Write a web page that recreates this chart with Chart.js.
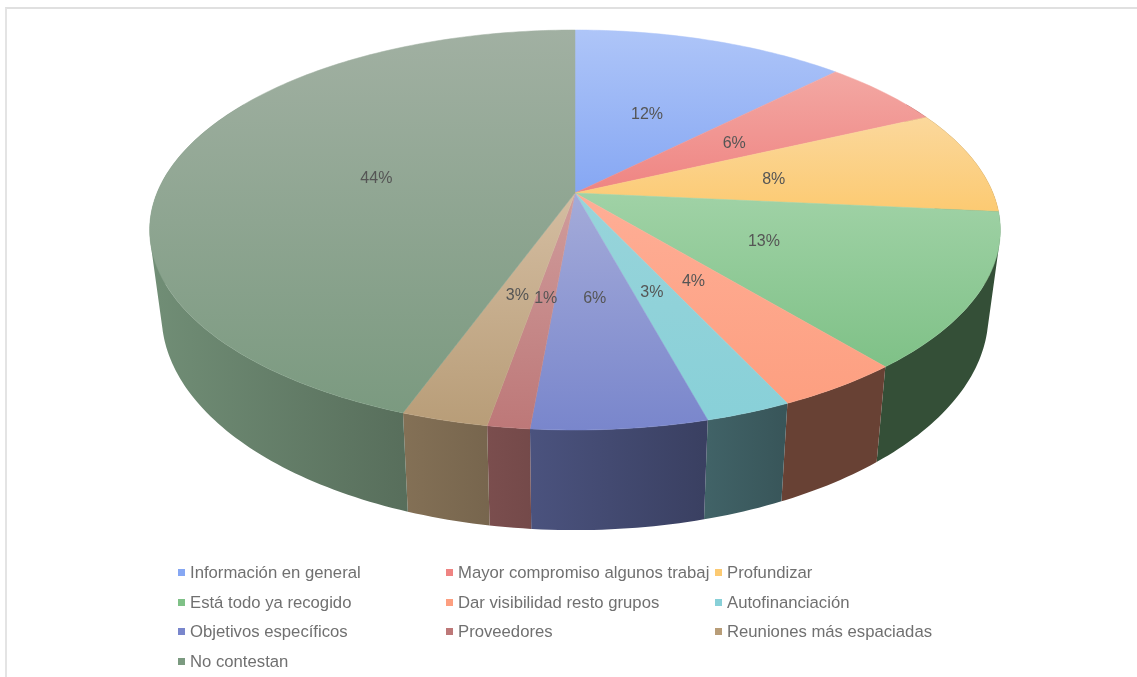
<!DOCTYPE html>
<html lang="es">
<head>
<meta charset="utf-8">
<title>Pie 3D</title>
<script src="https://cdn.jsdelivr.net/npm/chart.js@4"></script>
<style>
  html, body { margin: 0; padding: 0; background: #fff; overflow: hidden; }
  #wrap { position: relative; width: 1137px; height: 677px; filter: blur(0.4px); }
  #frame { position: absolute; left: 5px; top: 7px; right: 0; bottom: 0; border-left: 2px solid #e4e4e4; border-top: 2px solid #e0e0e0; }
  #pie { position: absolute; left: 0; top: 0; }
  .leg { position: absolute; font: 16.7px "Liberation Sans", Arial, sans-serif; color: #707070; line-height: 18px; white-space: nowrap; }
  .leg i { position: absolute; left: -12px; top: 5px; width: 7px; height: 7px; }
</style>
</head>
<body>
<div id="wrap">
  <div id="frame"></div>
  <canvas id="pie" width="1137" height="677"></canvas>
  <div id="legend"></div>
</div>
<script>
const categories = ['Información en general', 'Mayor compromiso algunos trabaj', 'Profundizar', 'Está todo ya recogido',
  'Dar visibilidad resto grupos', 'Autofinanciación', 'Objetivos específicos', 'Proveedores', 'Reuniones más espaciadas', 'No contestan']
// estimated shares, the picture only prints them rounded
const values = [12.45, 5.6, 8.45, 12.52, 4.03, 2.75, 5.6, 1.35, 2.77, 44.48]

const topLight = ['#aec5f8', '#f3a8a3', '#fbd89c', '#a0d2a6', '#feae96', '#98d4da', '#a4abd9', '#d09c9c', '#d4bda1', '#a1b0a2']
const topDark  = ['#86a7f3', '#ef8482', '#fcca72', '#7fc187', '#fd9f80', '#88d0d8', '#7986cc', '#bd7878', '#b89d78', '#7b9a80']

// perspective of the disc: unit circle -> screen
const CX = 575, CY = 193, AX = 418, BY = 157.45, K = -0.185
function project(u, v) {
  const w = 1 + K * v
  return { x: CX + AX * u / w, y: (CY + BY * v) / w }
}
// same point on the lower rim
function lower(p) {
  return { x: CX + (p.x - CX) * 0.972, y: 1.077 * p.y + 67 }
}
function rgb(hex) {
  return [1, 3, 5].map(i => parseInt(hex.slice(i, i + 2), 16))
}
function sideShade(u) {
  return u > 0.5 ? 0.41 : 0.41 + (0.5 - u) * 0.34
}
function arcPoints(from, to) {
  const pts = []
  const STEP = Math.PI / 180
  for (let a = from; a < to; a += STEP) pts.push(project(Math.cos(a), Math.sin(a)))
  pts.push(project(Math.cos(to), Math.sin(to)))
  return pts
}
function addPoly(ctx, pts) {
  pts.forEach((p, n) => n ? ctx.lineTo(p.x, p.y) : ctx.moveTo(p.x, p.y))
  ctx.closePath()
}
// quads must all wind the same way or nonzero fill cancels their overlap
function clockwise(pts) {
  let area = 0
  pts.forEach((p, n) => {
    const q = pts[(n + 1) % pts.length]
    area += p.x * q.y - q.x * p.y
  })
  return area >= 0 ? pts : pts.slice().reverse()
}

const pie3d = {
  id: 'pie3d',
  beforeDatasetDraw(chart) {
    const ctx = chart.ctx
    const arcs = chart.getDatasetMeta(0).data
    const FRONT_FROM = -30 * Math.PI / 180, FRONT_TO = 210 * Math.PI / 180

    // outer wall: quads in one path, the rim and lower edge cross near the sides
    arcs.forEach((arc, i) => {
      const from = Math.max(arc.startAngle, FRONT_FROM), to = Math.min(arc.endAngle, FRONT_TO)
      if (to <= from) return
      const rim = arcPoints(from, to)
      const base = rgb(topDark[i])
      const shade = u => `rgb(${base.map(c => Math.round(c * sideShade(u))).join(',')})`
      const grad = ctx.createLinearGradient(CX - 425, 0, CX + 425, 0)
      grad.addColorStop(0, shade(-1))
      grad.addColorStop(0.75, shade(0.5))
      grad.addColorStop(1, shade(1))
      ctx.beginPath()
      for (let n = 0; n < rim.length - 1; n++) {
        addPoly(ctx, clockwise([rim[n], rim[n + 1], lower(rim[n + 1]), lower(rim[n])]))
      }
      ctx.fillStyle = grad
      ctx.fill()
    })

    // top face
    arcs.forEach((arc, i) => {
      const pts = [project(0, 0)].concat(arcPoints(arc.startAngle, arc.endAngle))
      const ys = pts.map(p => p.y)
      const grad = ctx.createLinearGradient(0, Math.min(...ys), 0, Math.max(...ys))
      grad.addColorStop(0, topLight[i])
      grad.addColorStop(1, topDark[i])
      ctx.beginPath()
      addPoly(ctx, pts)
      ctx.fillStyle = grad
      ctx.strokeStyle = grad
      ctx.lineWidth = 0.5
      ctx.fill()
      ctx.stroke()
    })

    // percent labels
    const total = values.reduce((s, v) => s + v, 0)
    ctx.font = '16px "Liberation Sans", Arial, sans-serif'
    ctx.fillStyle = '#555555'
    ctx.textAlign = 'center'
    ctx.textBaseline = 'middle'
    arcs.forEach((arc, i) => {
      const mid = (arc.startAngle + arc.endAngle) / 2
      const p = project(0.49 * Math.cos(mid), 0.49 * Math.sin(mid))
      ctx.fillText(Math.round(values[i] / total * 100) + '%', p.x, p.y + 2)
    })
    return false
  }
}

new Chart(document.getElementById('pie'), {
  type: 'pie',
  data: { labels: categories, datasets: [{ data: values, backgroundColor: topDark }] },
  options: {
    responsive: false,
    animation: false,
    plugins: { legend: { display: false }, tooltip: { enabled: false } }
  },
  plugins: [pie3d]
})

// legend: three columns, filled row by row
const legendX = [190, 458, 727]
const legendY = [564, 594, 623, 653]
document.getElementById('legend').innerHTML = categories.map((c, i) => `
  <div class="leg" style="left:${legendX[i % 3]}px;top:${legendY[Math.floor(i / 3)]}px">
    <i style="background:${topDark[i]}"></i>${c}
  </div>`).join('')
</script>
</body>
</html>
